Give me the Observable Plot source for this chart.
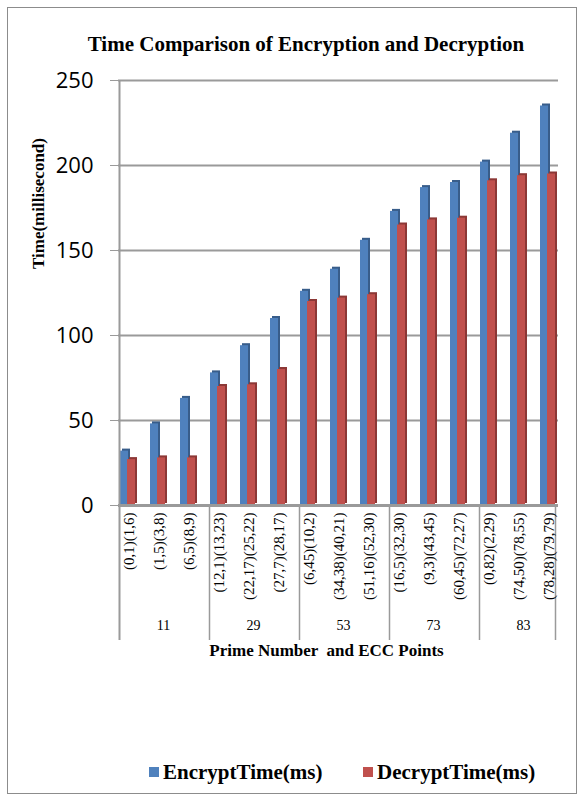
<!DOCTYPE html>
<html><head><meta charset="utf-8">
<script src="https://cdn.jsdelivr.net/npm/d3@7"></script>
<script src="https://cdn.jsdelivr.net/npm/@observablehq/plot@0.6"></script>
<style>
body{margin:0;background:#fff;}
#wrap{position:relative;width:586px;height:803px;overflow:hidden;background:#fff;}
#border{position:absolute;left:7px;top:7px;width:570px;height:787px;border:1px solid #8c8c8c;box-sizing:border-box;}
#title{position:absolute;left:0;width:612px;top:32px;text-align:center;font:bold 21px "Liberation Serif";color:#000;white-space:nowrap;}
#chart{position:absolute;left:0;top:0;}
.sw{position:absolute;width:10px;height:10px;top:767px;}
.lt{position:absolute;top:760px;font:bold 21px "Liberation Serif";color:#000;white-space:nowrap;}
</style></head>
<body>
<div id="wrap">
  <div id="border"></div>
  <div id="chart"></div>
  <div id="title"></div>
  <div class="sw" id="sw1" style="left:149px;"></div><div class="lt" id="lt1" style="left:163px;"></div>
  <div class="sw" id="sw2" style="left:363px;"></div><div class="lt" id="lt2" style="left:377px;"></div>
</div>
<script>
const title = "Time Comparison of Encryption and Decryption";
const yLabel = "Time(millisecond)";
const xLabel = "Prime Number  and ECC Points";
const seriesNames = ["EncryptTime(ms)", "DecryptTime(ms)"];
const seriesColors = ["#4f81bd", "#c0504d"];
const seriesShades = ["#385d8a", "#8c3836"];
const primes = ["11", "29", "53", "73", "83"];
const categories = ["(0,1)(1,6)", "(1,5)(3,8)", "(6,5)(8,9)",
  "(12,1)(13,23)", "(22,17)(25,22)", "(27,7)(28,17)",
  "(6,45)(10,2)", "(34,38)(40,21)", "(51,16)(52,30)",
  "(16,5)(32,30)", "(9,3)(43,45)", "(60,45)(72,27)",
  "(0,82)(2,29)", "(74,50)(78,55)", "(78,28)(79,79)"];
const categoryPrime = ["11","11","11","29","29","29","53","53","53","73","73","73","83","83","83"];
const encrypt = [32, 48, 63, 78, 94, 110, 126, 139, 156, 173, 187, 190, 202, 219, 235];
const decrypt = [27, 28, 28, 70, 71, 80, 120, 122, 124, 165, 168, 169, 191, 194, 195];
const yTicks = [0, 50, 100, 150, 200, 250];

document.getElementById("title").textContent = title;
document.getElementById("sw1").style.background = seriesColors[0];
document.getElementById("sw2").style.background = seriesColors[1];
document.getElementById("lt1").textContent = seriesNames[0];
document.getElementById("lt2").textContent = seriesNames[1];

const data = categories.map((c, i) => ({category: c, prime: categoryPrime[i], encrypt: encrypt[i], decrypt: decrypt[i]}));
const groupStarts = primes.map(p => categories[categoryPrime.indexOf(p)]);
const groupMiddles = primes.map(p => ({prime: p, category: categories[categoryPrime.indexOf(p) + 1]}));
const serif = "Liberation Serif";
const grid = "#9a9a9a";

const chart = Plot.plot({
  width: 586, height: 680,
  marginLeft: 118, marginRight: 28, marginTop: 80, marginBottom: 175,
  style: {background: "transparent"},
  x: {type: "band", domain: categories, range: [113, 564], padding: 0},
  y: {domain: [0, 250]},
  marks: [
    Plot.ruleY(yTicks.filter(v => v > 0), {stroke: grid, strokeWidth: 2}),
    Plot.barY(data, {x: "category", y: "encrypt", fill: seriesShades[0], insetLeft: 6, insetRight: 16, dx: 2, dy: -2}),
    Plot.barY(data, {x: "category", y: "encrypt", fill: seriesColors[0], insetLeft: 6, insetRight: 16}),
    Plot.barY(data, {x: "category", y: "decrypt", fill: seriesShades[1], insetLeft: 13, insetRight: 9, dx: 2, dy: -2}),
    Plot.barY(data, {x: "category", y: "decrypt", fill: seriesColors[1], insetLeft: 13, insetRight: 9}),
    Plot.ruleY([0], {stroke: grid, strokeWidth: 3}),
    Plot.ruleX([categories[0]], {dx: -10, stroke: grid, strokeWidth: 2, insetBottom: -135}),
    Plot.ruleX(groupStarts.slice(1), {dx: -10, y1: 0, y2: 0, insetBottom: -135, stroke: grid, strokeWidth: 1.5}),
    Plot.ruleX([categories[categories.length - 1]], {dx: 6, y1: 0, y2: 0, insetBottom: -135, stroke: grid, strokeWidth: 1.5}),
    Plot.axisY({ticks: yTicks, tickSize: 8, tickPadding: 17, stroke: grid, fontSize: 22, fontFamily: "Open Sans", label: null}),
    Plot.axisX({tickRotate: -90, tickSize: 0, tickPadding: 7, fontSize: 15, fontFamily: serif, label: null}),
    Plot.text(groupMiddles, {x: "category", text: "prime", frameAnchor: "bottom", dy: 124, dx: 4, fontSize: 14, fontFamily: serif}),
    Plot.text([xLabel], {frameAnchor: "bottom", dy: 150, dx: -12, fontSize: 17, fontWeight: "bold", fontFamily: serif}),
    Plot.text([yLabel], {frameAnchor: "left", rotate: -90, dx: -80, dy: -24, fontSize: 17, fontWeight: "bold", fontFamily: serif})
  ]
});
document.getElementById("chart").appendChild(chart);
</script>
</body></html>
